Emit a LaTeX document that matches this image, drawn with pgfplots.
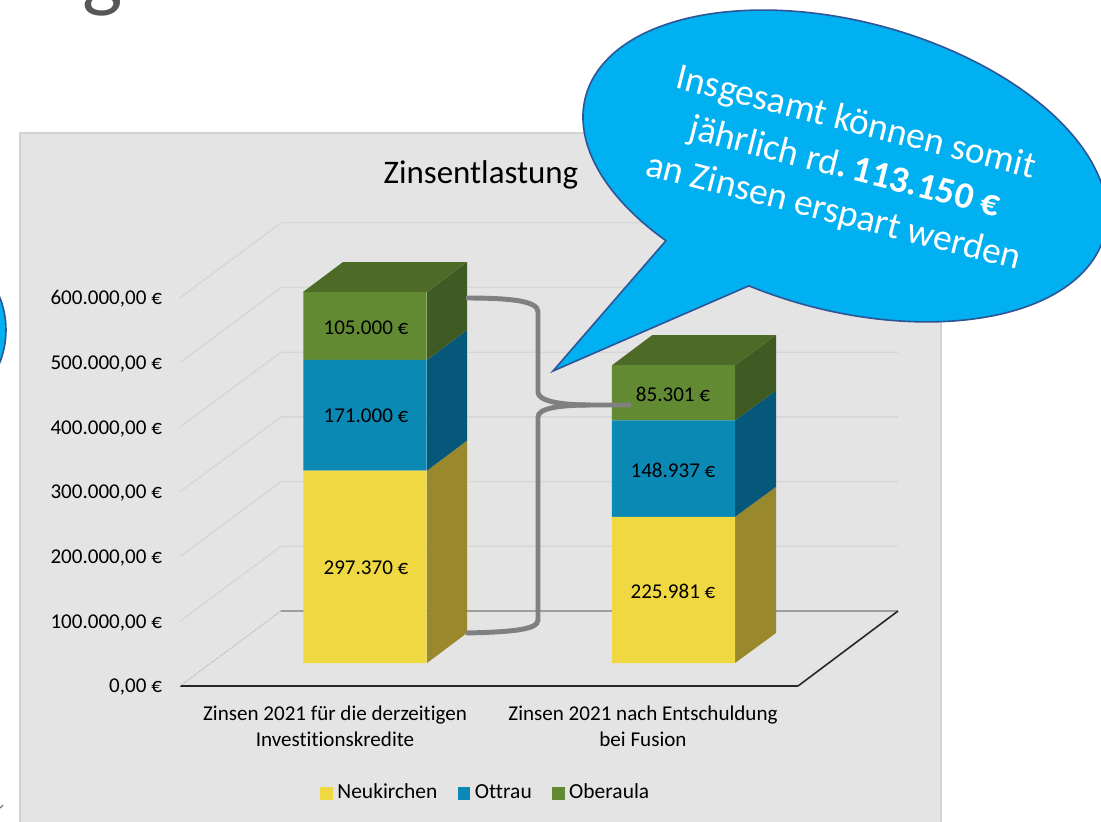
\documentclass[border=0pt]{standalone}
\usepackage{fontspec}
\setmainfont{Carlito}[Ligatures=NoCommon]
\usepackage{pgfplots}
\pgfplotsset{compat=1.18}
\definecolor{panel}{HTML}{E4E4E4}
\definecolor{panelb}{HTML}{D2D2D2}
\definecolor{gridc}{HTML}{D6D6D6}
\definecolor{yel}{HTML}{EFD841}
\definecolor{yelS}{HTML}{9A882C}
\definecolor{blu}{HTML}{0B89B5}
\definecolor{bluS}{HTML}{06587A}
\definecolor{gre}{HTML}{628A33}
\definecolor{greS}{HTML}{3F5A22}
\definecolor{greT}{HTML}{4D6A27}
\definecolor{ball}{HTML}{00B0F0}
\definecolor{ballb}{HTML}{2F5597}
\newcommand{\lab}{\fontsize{15.8pt}{19.5pt}\selectfont}
\pgfplotsset{base/.style={
  scale only axis, width=463.5pt, height=349.38pt,
  at={(135pt,-514.5pt)}, anchor=south west,
  xmin=180, xmax=798, ymin=0, ymax=720000, clip=false}}
\begin{document}
\begin{tikzpicture}[x=1pt,y=1pt]
\path[use as bounding box] (0,0) rectangle (825.75pt,-616.5pt);
\begin{scope}[x=.75pt,y=-.75pt]
  \filldraw[fill=panel,draw=panelb,line width=1.5pt] (20,133) rectangle (941,840);
  \node[anchor=base,text=black!66,font=\fontsize{64pt}{64pt}\selectfont] at (103,1) {g};
  \filldraw[fill=ball,draw=ballb,line width=1.2pt] (-82,330) circle [radius=88];
  \draw[black!60,line width=.8pt] (0,808) -- (3,805);
\end{scope}
\begin{axis}[base,
  axis y line=none, axis x line=bottom, axis x line*=bottom,
  x axis line style={black!85,line width=1.5pt,-},
  xtick={335,643},
  xticklabels={{Zinsen 2021 für die derzeitigen\\Investitionskredite},{Zinsen 2021 nach Entschuldung\\bei Fusion}},
  xticklabel style={align=center,font=\lab,yshift=-11.5pt},
  major tick length=0pt,
  title={Zinsentlastung},
  title style={at={(rel axis cs:0.487,1.079)},anchor=center,yshift=0pt,font=\fontsize{24.7pt}{28pt}\selectfont},
]
% gridlines on the side and back walls
\addplot[gridc,line width=1pt] coordinates {(180,100000)(281,215920)(898,215920)};
\addplot[gridc,line width=1pt] coordinates {(180,200000)(281,315920)(898,315920)};
\addplot[gridc,line width=1pt] coordinates {(180,300000)(281,415920)(898,415920)};
\addplot[gridc,line width=1pt] coordinates {(180,400000)(281,515920)(898,515920)};
\addplot[gridc,line width=1pt] coordinates {(180,500000)(281,615920)(898,615920)};
\addplot[gridc,line width=1pt] coordinates {(180,600000)(281,715920)(898,715920)};
\addplot[black!30,line width=.8pt,densely dotted] coordinates {(180,0)(281,115920)};
\addplot[black!38,line width=1.4pt] coordinates {(281,115920)(898,115920)};
\addplot[black!85,line width=1.2pt] coordinates {(798,0)(898,115920)};
% side and top faces, bar 1
\addplot[fill=yelS,draw=none] coordinates {(427,35549)(467,81917)(467,379287)(427,332919)} --cycle;
\addplot[fill=bluS,draw=none] coordinates {(427,332919)(467,379287)(467,550287)(427,503919)} --cycle;
\addplot[fill=greS,draw=none] coordinates {(427,503919)(467,550287)(467,655287)(427,608919)} --cycle;
\addplot[fill=greT,draw=none] coordinates {(303,608919)(343,655287)(467,655287)(427,608919)} --cycle;
% side and top faces, bar 2
\addplot[fill=yelS,draw=none] coordinates {(735,35549)(776,81917)(776,307898)(735,261530)} --cycle;
\addplot[fill=bluS,draw=none] coordinates {(735,261530)(776,307898)(776,456835)(735,410467)} --cycle;
\addplot[fill=greS,draw=none] coordinates {(735,410467)(776,456835)(776,542136)(735,495768)} --cycle;
\addplot[fill=greT,draw=none] coordinates {(612,495768)(652,542136)(776,542136)(735,495768)} --cycle;
\end{axis}
\begin{axis}[base,
  axis x line=none, axis y line=left,
  y axis line style={draw=none},
  scaled y ticks=false,
  ytick={0,100000,200000,300000,400000,500000,600000},
  yticklabels={{0,00 €},{100.000,00 €},{200.000,00 €},{300.000,00 €},{400.000,00 €},{500.000,00 €},{600.000,00 €}},
  yticklabel style={font=\lab,xshift=-10pt,yshift=-1pt},
  major tick length=0pt,
  ybar stacked, bar width=92.5pt,
  legend columns=3,
  legend style={at={(axis cs:487,-165787)},anchor=center,draw=none,fill=none,font=\fontsize{16.1pt}{19.5pt}\selectfont,
    nodes={text height=11pt,text depth=3.5pt,inner xsep=3.5pt,inner ysep=0pt},
    inner sep=0pt,/tikz/every even column/.append style={column sep=11.6pt}},
  legend image code/.code={\fill[#1] (0pt,-4.8pt) rectangle (9.5pt,4.8pt);},
]
\addplot[draw=none,fill=none,forget plot] coordinates {(365,35549)(673.5,35549)};
\addplot[fill=yel,draw=none] coordinates {(365,297370)(673.5,225981)};
\addplot[fill=blu,draw=none] coordinates {(365,171000)(673.5,148937)};
\addplot[fill=gre,draw=none] coordinates {(365,105000)(673.5,85301)};
\legend{Neukirchen,Ottrau,Oberaula}
\end{axis}
\begin{scope}[x=.75pt,y=-.75pt]
  \draw[black!50,line width=3.7pt] (466,298) .. controls (512,298) and (538,301) .. (538,312) -- (538,392) .. controls (538,400) and (556,405) .. (590,405) -- (631,405);
  \draw[black!50,line width=3.7pt] (466,633) .. controls (510,632) and (538,630) .. (538,620) -- (538,417) .. controls (538,409) and (556,405) .. (590,405);
  \node[font=\lab] at (366,328) {105.000 €};
  \node[font=\lab] at (366,416) {171.000 €};
  \node[font=\lab] at (366,568) {297.370 €};
  \node[font=\lab] at (673,394) {85.301 €};
  \node[font=\lab] at (673,470) {148.937 €};
  \node[font=\lab] at (673,591) {225.981 €};
\end{scope}
\begin{scope}[x=.75pt,y=.75pt,shift={(845,-166)},rotate=-15]
  \filldraw[fill=ball,draw=ballb,line width=1.2pt]
    (-61.8,-140.6) arc [start angle=256.7,end angle=595.1,x radius=268.5,y radius=144.5] -- (-229,-273.6) -- cycle;
\end{scope}
\node[text=white,align=center,font=\fontsize{28pt}{34.5pt}\selectfont,rotate=-14.2] at (633.5pt,-126pt) {Insgesamt können somit\\jährlich rd\textbf{.\hspace{0.16em}113.150 €}\\an Zinsen erspart werden};
\end{tikzpicture}
\end{document}
